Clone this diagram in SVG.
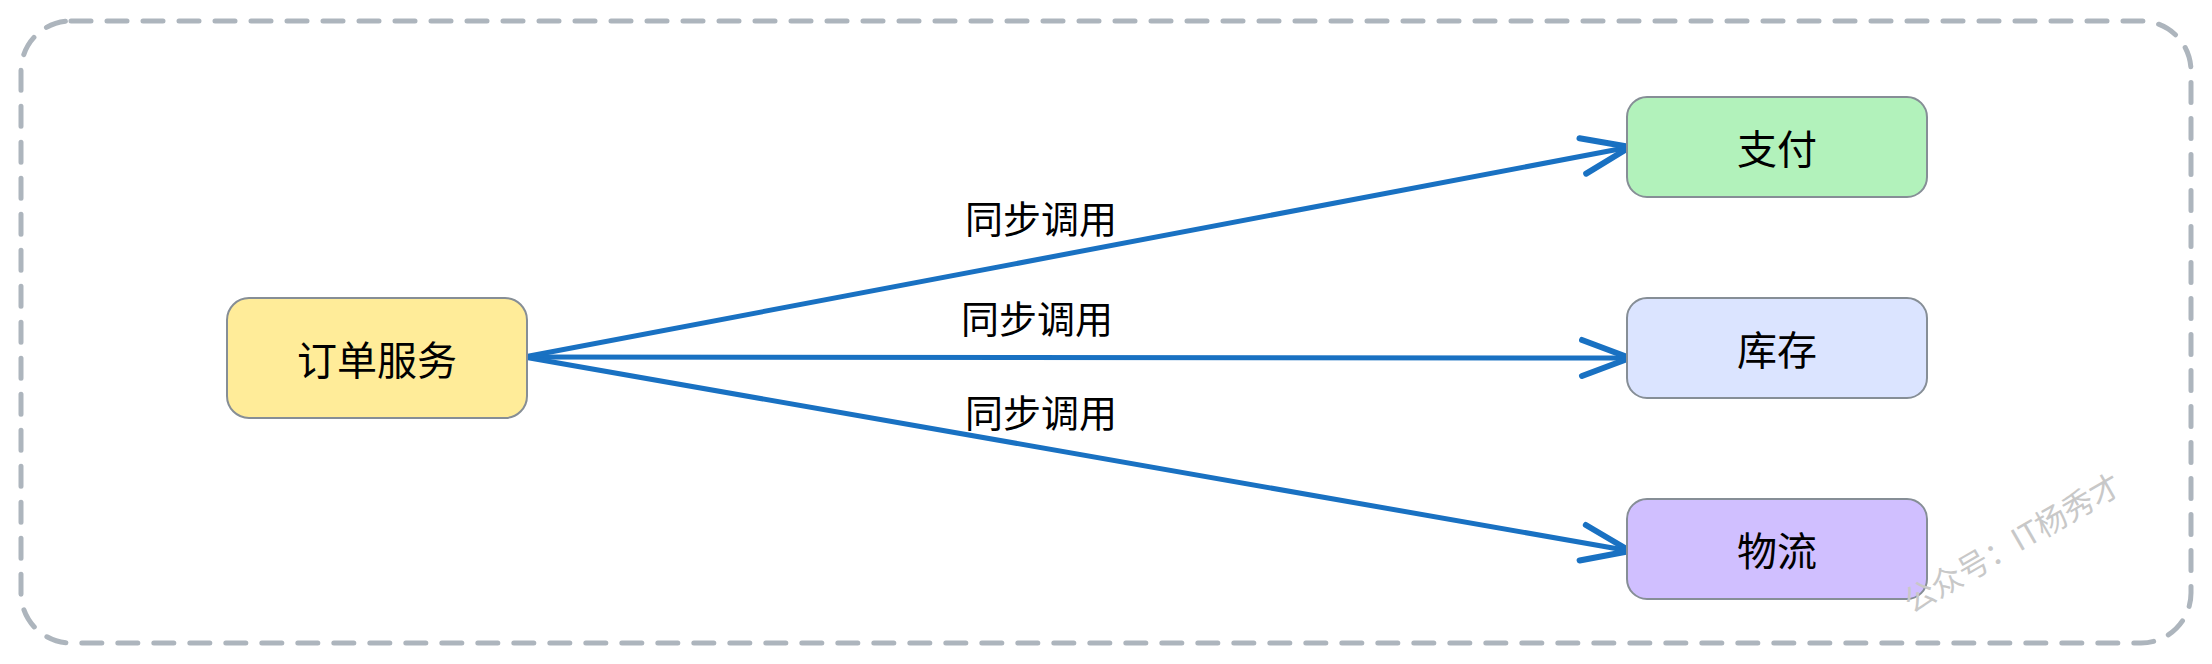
<svg xmlns="http://www.w3.org/2000/svg" width="2212" height="664" viewBox="0 0 2212 664">
<style>
.node{stroke:#868e96;stroke-width:2}
.t{font-family:"Noto Sans CJK SC","Noto Sans",sans-serif;font-size:40px;fill:#000;text-anchor:middle;dominant-baseline:central}
.lbl{font-family:"Noto Sans CJK SC","Noto Sans",sans-serif;font-size:38px;fill:#000;text-anchor:middle;dominant-baseline:central}
.edge{fill:none;stroke:#1971c2;stroke-width:5;stroke-linecap:round}
</style>
<defs>
<marker id="arr" markerUnits="userSpaceOnUse" markerWidth="60" markerHeight="50" refX="0" refY="0" viewBox="-50 -25 60 50" orient="auto" overflow="visible">
<path d="M-48,-18 L0,0 L-48,18" fill="none" stroke="#1971c2" stroke-width="6" stroke-linecap="round" stroke-linejoin="round"/>
</marker>
</defs>
<rect x="21" y="21" width="2170" height="622" rx="50" fill="none" stroke="#adb5bd" stroke-width="5" stroke-dasharray="20 16" stroke-linecap="round"/>
<g id="connectors">
<path class="edge" d="M524,357 L1630,147" marker-end="url(#arr)"/>
<path class="edge" d="M524,357 L1630,358" marker-end="url(#arr)"/>
<path class="edge" d="M524,357 L1630,551" marker-end="url(#arr)"/>
<text class="lbl" x="1041" y="216">同步调用</text>
<text class="lbl" x="1037" y="316">同步调用</text>
<text class="lbl" x="1041" y="410">同步调用</text>
</g>
<g id="order">
<rect class="node" x="227" y="298" width="300" height="120" rx="22" fill="#ffec99"/>
<text class="t" x="377" y="358">订单服务</text>
</g>
<g id="pay">
<rect class="node" x="1627" y="97" width="300" height="100" rx="20" fill="#b2f2bb"/>
<text class="t" x="1777" y="147">支付</text>
</g>
<g id="stock">
<rect class="node" x="1627" y="298" width="300" height="100" rx="20" fill="#dbe4ff"/>
<text class="t" x="1777" y="348">库存</text>
</g>
<g id="logistics">
<rect class="node" x="1627" y="499" width="300" height="100" rx="20" fill="#d0bfff"/>
<text class="t" x="1777" y="549">物流</text>
</g>
<text x="1912" y="614" transform="rotate(-30 1912 614)" font-family="'Noto Sans CJK SC','Noto Sans',sans-serif" font-size="31" fill="#c8c8c8">公众号：IT杨秀才</text>
</svg>
